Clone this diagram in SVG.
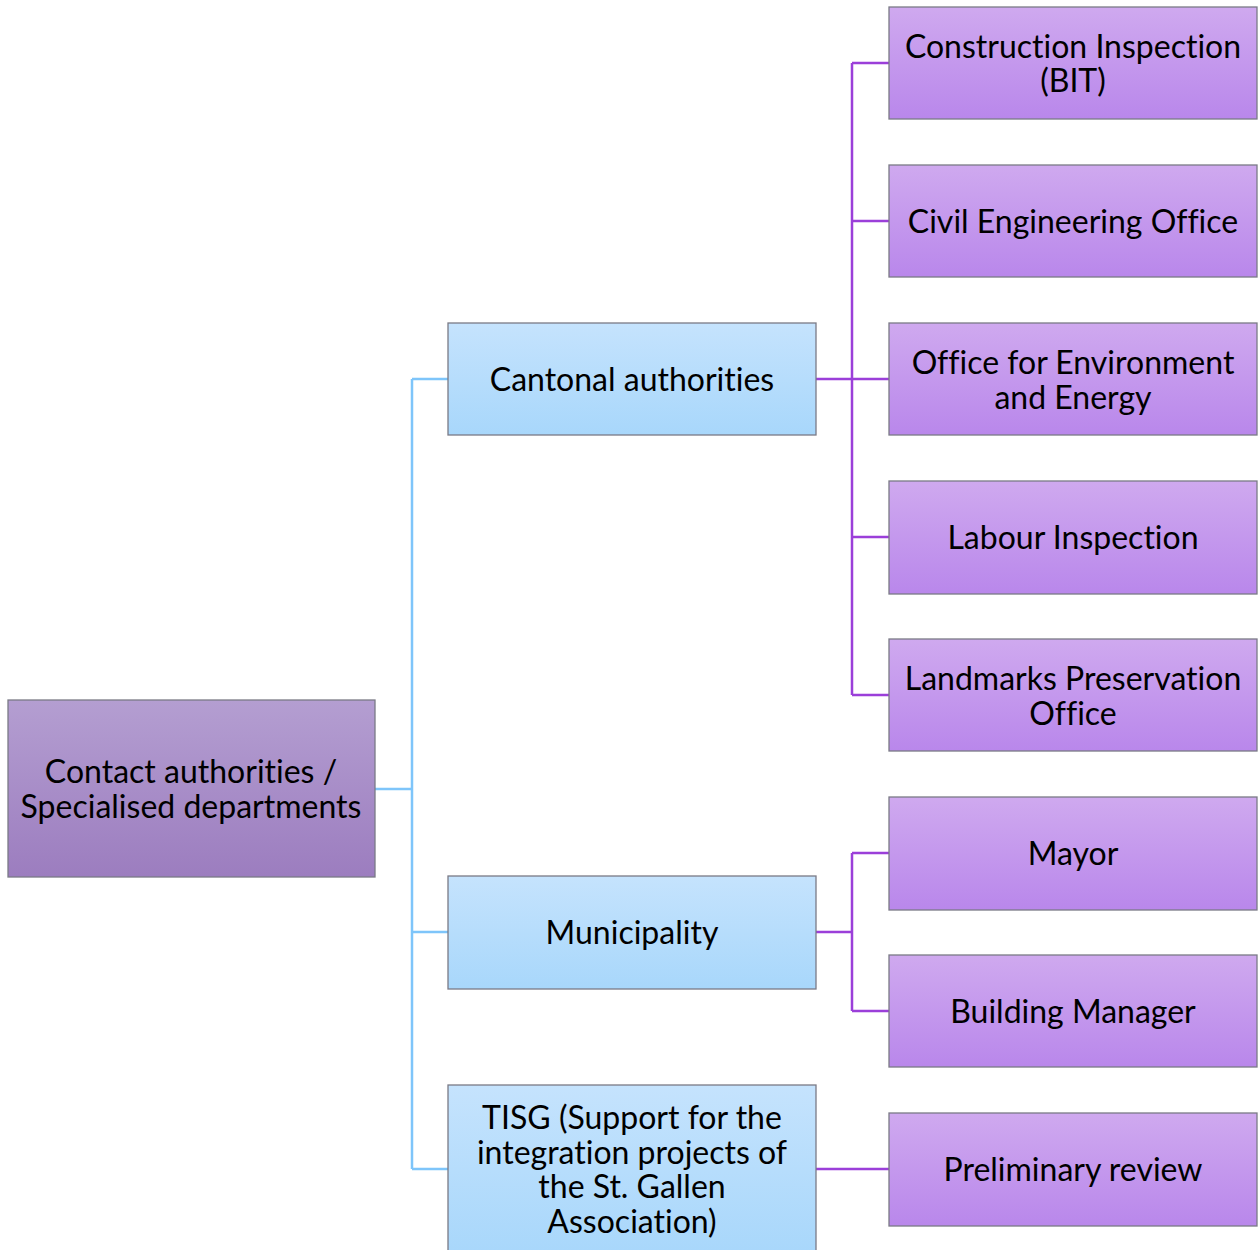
<svg xmlns="http://www.w3.org/2000/svg" width="1259" height="1250" viewBox="0 0 1259 1250">
<defs>
<linearGradient id="gRoot" x1="0" y1="0" x2="0" y2="1"><stop offset="0" stop-color="#b49ed1"/><stop offset="1" stop-color="#9c7dbf"/></linearGradient>
<linearGradient id="gBlue" x1="0" y1="0" x2="0" y2="1"><stop offset="0" stop-color="#c5e3fd"/><stop offset="1" stop-color="#a8d7fb"/></linearGradient>
<linearGradient id="gPurple" x1="0" y1="0" x2="0" y2="1"><stop offset="0" stop-color="#cfa9ef"/><stop offset="1" stop-color="#b987eb"/></linearGradient>
</defs>
<style>
.box{stroke:#7a7a86;stroke-width:1.3}
.root{fill:url(#gRoot)}
.blue{fill:url(#gBlue)}
.purple{fill:url(#gPurple)}
text{font-family:Lato,"Liberation Sans",sans-serif;font-size:32px;fill:#000;text-anchor:middle;font-variant-ligatures:none}
.cb{fill:none;stroke:#7ec5fa;stroke-width:2.5}
.cp{fill:none;stroke:#9b3fd9;stroke-width:2.5}
</style>
<g id="connectors">
<path class="cb" d="M375 789H412M412 379V1169M412 379H448M412 932H448M412 1169H448"/>
<path class="cp" d="M816 379H852M852 63V695M852 63H889M852 221H889M852 379H889M852 537H889M852 695H889"/>
<path class="cp" d="M816 932H852M852 853V1011M852 853H889M852 1011H889"/>
<path class="cp" d="M816 1169H889"/>
</g>
<g id="root"><rect class="box root" x="8" y="700" width="367" height="177"/><text x="191" y="783">Contact authorities /</text><text x="191" y="818">Specialised departments</text></g>
<g id="cantonal"><rect class="box blue" x="448" y="323" width="368" height="112"/><text x="632" y="391">Cantonal authorities</text></g>
<g id="municipality"><rect class="box blue" x="448" y="876" width="368" height="113"/><text x="632" y="944">Municipality</text></g>
<g id="tisg"><rect class="box blue" x="448" y="1085" width="368" height="170"/><text x="632" y="1129">TISG (Support for the</text><text x="632" y="1164">integration projects of</text><text x="632" y="1198">the St. Gallen</text><text x="632" y="1233">Association)</text></g>
<g id="bit"><rect class="box purple" x="889" y="7" width="368" height="112"/><text x="1073" y="58">Construction Inspection</text><text x="1073" y="92">(BIT)</text></g>
<g id="civil"><rect class="box purple" x="889" y="165" width="368" height="112"/><text x="1073" y="233">Civil Engineering Office</text></g>
<g id="env"><rect class="box purple" x="889" y="323" width="368" height="112"/><text x="1073" y="374">Office for Environment</text><text x="1073" y="409">and Energy</text></g>
<g id="labour"><rect class="box purple" x="889" y="481" width="368" height="113"/><text x="1073" y="549">Labour Inspection</text></g>
<g id="landmarks"><rect class="box purple" x="889" y="639" width="368" height="112"/><text x="1073" y="690">Landmarks Preservation</text><text x="1073" y="725">Office</text></g>
<g id="mayor"><rect class="box purple" x="889" y="797" width="368" height="113"/><text x="1073" y="865">Mayor</text></g>
<g id="manager"><rect class="box purple" x="889" y="955" width="368" height="112"/><text x="1073" y="1023">Building Manager</text></g>
<g id="review"><rect class="box purple" x="889" y="1113" width="368" height="113"/><text x="1073" y="1181">Preliminary review</text></g>
</svg>
